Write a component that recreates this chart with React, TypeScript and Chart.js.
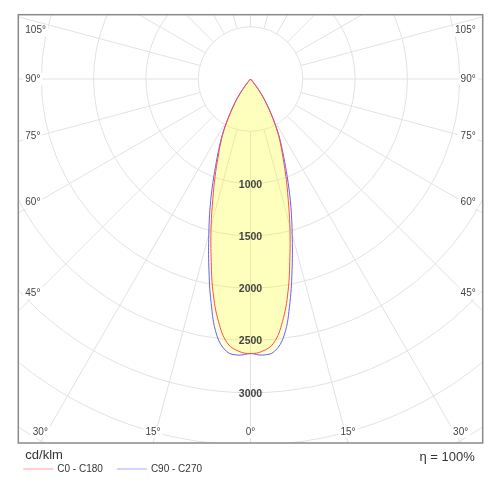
import React, { useEffect, useRef } from "react";
import { Chart, registerables } from "chart.js";

Chart.register(...registerables);

// gamma angles (deg from nadir) and intensities in cd/klm
const gammaAngles = [0, 2.5, 5, 7.5, 10, 12.5, 15, 17.5, 20, 22.5, 25, 27.5, 30, 32.5, 35, 37.5, 40, 42.5];
const c0c180 = [2625, 2605, 2535, 2340, 2065, 1740, 1455, 1195, 990, 810, 675, 545, 410, 295, 200, 105, 35, 0];
const c90c270 = [2625, 2642, 2615, 2470, 2170, 1840, 1540, 1285, 1050, 850, 695, 560, 420, 300, 205, 110, 35, 0];

const seriesNames = ["C0 - C180", "C90 - C270"];
const ringValues = [500, 1000, 1500, 2000, 2500, 3000, 3500, 4000, 4500];
const ringLabels = [1000, 1500, 2000, 2500, 3000];
const angleTicks = [0, 15, 30, 45, 60, 75, 90, 105];
const unitLabel = "cd/klm";
const efficiencyLabel = "η = 100%";

const rad = (d: number) => (d * Math.PI) / 180;

// symmetric plane: left half (C180 / C270) then right half (C0 / C90)
const toPoints = (vals: number[]) => {
  const left = gammaAngles
    .map((g, i) => ({ x: -vals[i] * Math.sin(rad(g)), y: -vals[i] * Math.cos(rad(g)) }))
    .reverse();
  const right = gammaAngles
    .slice(1)
    .map((g, i) => ({ x: vals[i + 1] * Math.sin(rad(g)), y: -vals[i + 1] * Math.cos(rad(g)) }));
  return [...left, ...right];
};

const FONT = "'Liberation Sans', Arial, sans-serif";

const polarPlugin = {
  id: "polarPlugin",
  beforeDatasetsDraw(chart: any) {
    const { ctx, chartArea: a, scales } = chart;
    const cx = scales.x.getPixelForValue(0);
    const cy = scales.y.getPixelForValue(0);
    const k = (scales.x.getPixelForValue(1000) - cx) / 1000;

    ctx.save();
    ctx.beginPath();
    ctx.rect(a.left, a.top, a.right - a.left, a.bottom - a.top);
    ctx.clip();

    ctx.strokeStyle = "#e2e2e2";
    ctx.lineWidth = 1;
    ringValues.forEach((v) => {
      ctx.beginPath();
      ctx.arc(cx, cy, v * k, 0, Math.PI * 2);
      ctx.stroke();
    });
    const r0 = ringValues[0] * k;
    const r1 = 8000 * k;
    for (let d = 0; d < 360; d += 15) {
      const t = rad(d);
      ctx.beginPath();
      ctx.moveTo(cx + r0 * Math.sin(t), cy + r0 * Math.cos(t));
      ctx.lineTo(cx + r1 * Math.sin(t), cy + r1 * Math.cos(t));
      ctx.stroke();
    }

    // translucent fills of each curve
    chart.data.datasets.forEach((ds: any, i: number) => {
      const line = chart.getDatasetMeta(i).dataset;
      if (!line) return;
      line.updateControlPoints(a, "x");
      ctx.beginPath();
      line.path(ctx);
      ctx.closePath();
      ctx.fillStyle = ds.backgroundColor;
      ctx.fill();
    });
    ctx.restore();
  },
  afterDatasetsDraw(chart: any) {
    const { ctx, chartArea: a, scales } = chart;
    const cx = scales.x.getPixelForValue(0);
    const cy = scales.y.getPixelForValue(0);
    const k = (scales.x.getPixelForValue(1000) - cx) / 1000;

    ctx.save();
    // intensity labels
    ctx.font = `bold 10.5px ${FONT}`;
    ctx.fillStyle = "#444";
    ctx.textAlign = "center";
    ctx.textBaseline = "middle";
    ringLabels.forEach((v) => ctx.fillText(String(v), cx, cy + v * k + 1));

    // angle labels, placed where each ray crosses a box inset from the frame
    ctx.font = `10px ${FONT}`;
    const inL = a.left + 18;
    const inR = a.right - 18;
    const inB = a.bottom - 11;
    const inT = a.top + 16;
    angleTicks.forEach((deg) => {
      const sides = deg === 0 ? [1] : [1, -1];
      sides.forEach((s) => {
        const t = rad(deg);
        const sx = Math.sin(t);
        const cyDir = Math.cos(t);
        const tx = sx > 1e-6 ? (s > 0 ? inR - cx : cx - inL) / sx : Infinity;
        const ty = cyDir > 1e-6 ? (a.bottom - cy) / cyDir : cyDir < -1e-6 ? (a.top - cy) / cyDir : Infinity;
        const text = `${deg}°`;
        const w = ctx.measureText(text).width;
        let x: number;
        let y: number;
        if (tx <= ty) {
          y = Math.min(Math.max(cy + tx * cyDir, inT), inB);
          x = s > 0 ? a.right - 7 - w / 2 : a.left + 7 + w / 2;
        } else {
          y = inB;
          x = cx + s * ty * sx;
          x = Math.min(Math.max(x, a.left + 7 + w / 2), a.right - 7 - w / 2);
        }
        ctx.fillStyle = "#fff";
        ctx.fillRect(x - w / 2 - 2, y - 6, w + 4, 12);
        ctx.fillStyle = "#444";
        ctx.textAlign = "center";
        ctx.fillText(text, x, y);
      });
    });

    // frame
    ctx.strokeStyle = "#8a8a8a";
    ctx.lineWidth = 1.5;
    ctx.strokeRect(a.left, a.top, a.right - a.left, a.bottom - a.top);
    ctx.restore();
  },
  afterDraw(chart: any) {
    const { ctx, chartArea: a } = chart;
    ctx.save();
    ctx.fillStyle = "#333";
    ctx.textBaseline = "alphabetic";
    ctx.font = `13px ${FONT}`;
    ctx.textAlign = "left";
    ctx.fillText(unitLabel, a.left + 7, a.bottom + 16);
    ctx.textAlign = "right";
    ctx.fillText(efficiencyLabel, a.right - 8, a.bottom + 17.5);

    // legend
    ctx.font = `10px ${FONT}`;
    ctx.textAlign = "left";
    ctx.textBaseline = "middle";
    let x = a.left + 5;
    const y = a.bottom + 26;
    chart.data.datasets.forEach((ds: any) => {
      ctx.strokeStyle = ds.borderColor;
      ctx.lineWidth = 1;
      ctx.globalAlpha = 0.55;
      ctx.beginPath();
      ctx.moveTo(x, y);
      ctx.lineTo(x + 30, y);
      ctx.stroke();
      ctx.globalAlpha = 1;
      ctx.fillText(ds.label, x + 34, y + 0.5);
      x += 34 + ctx.measureText(ds.label).width + 14;
    });
    ctx.restore();
  },
};

const PolarIntensityChart: React.FC = () => {
  const canvasRef = useRef<HTMLCanvasElement | null>(null);
  const chartInstance = useRef<Chart | null>(null);

  useEffect(() => {
    if (!canvasRef.current) return;
    if (chartInstance.current) chartInstance.current.destroy();

    chartInstance.current = new Chart(canvasRef.current, {
      type: "scatter",
      data: {
        datasets: [
          {
            label: seriesNames[0],
            data: toPoints(c0c180),
            showLine: true,
            borderColor: "#ff4d4d",
            backgroundColor: "rgba(255, 255, 0, 0.14)",
            borderWidth: 1,
            pointRadius: 0,
            tension: 0.4,
            fill: false,
          },
          {
            label: seriesNames[1],
            data: toPoints(c90c270),
            showLine: true,
            borderColor: "#6060ff",
            backgroundColor: "rgba(255, 255, 0, 0.14)",
            borderWidth: 1,
            pointRadius: 0,
            tension: 0.4,
            fill: false,
          },
        ],
      },
      options: {
        animation: false,
        responsive: false,
        layout: { padding: { left: 18.3, top: 14.7, right: 17.3, bottom: 57 } },
        scales: {
          x: { type: "linear", display: false, min: -2220, max: 2220 },
          y: { type: "linear", display: false, min: -3480, max: 615 },
        },
        plugins: {
          legend: { display: false },
          tooltip: { enabled: false },
        },
      },
      plugins: [polarPlugin],
    } as any);

    return () => {
      if (chartInstance.current) {
        chartInstance.current.destroy();
        chartInstance.current = null;
      }
    };
  }, []);

  return (
    <div style={{ position: "fixed", left: 0, top: 0, width: 500, height: 500, background: "#fff" }}>
      <canvas ref={canvasRef} width={500} height={500} />
    </div>
  );
};

export default function App() {
  return <PolarIntensityChart />;
}
